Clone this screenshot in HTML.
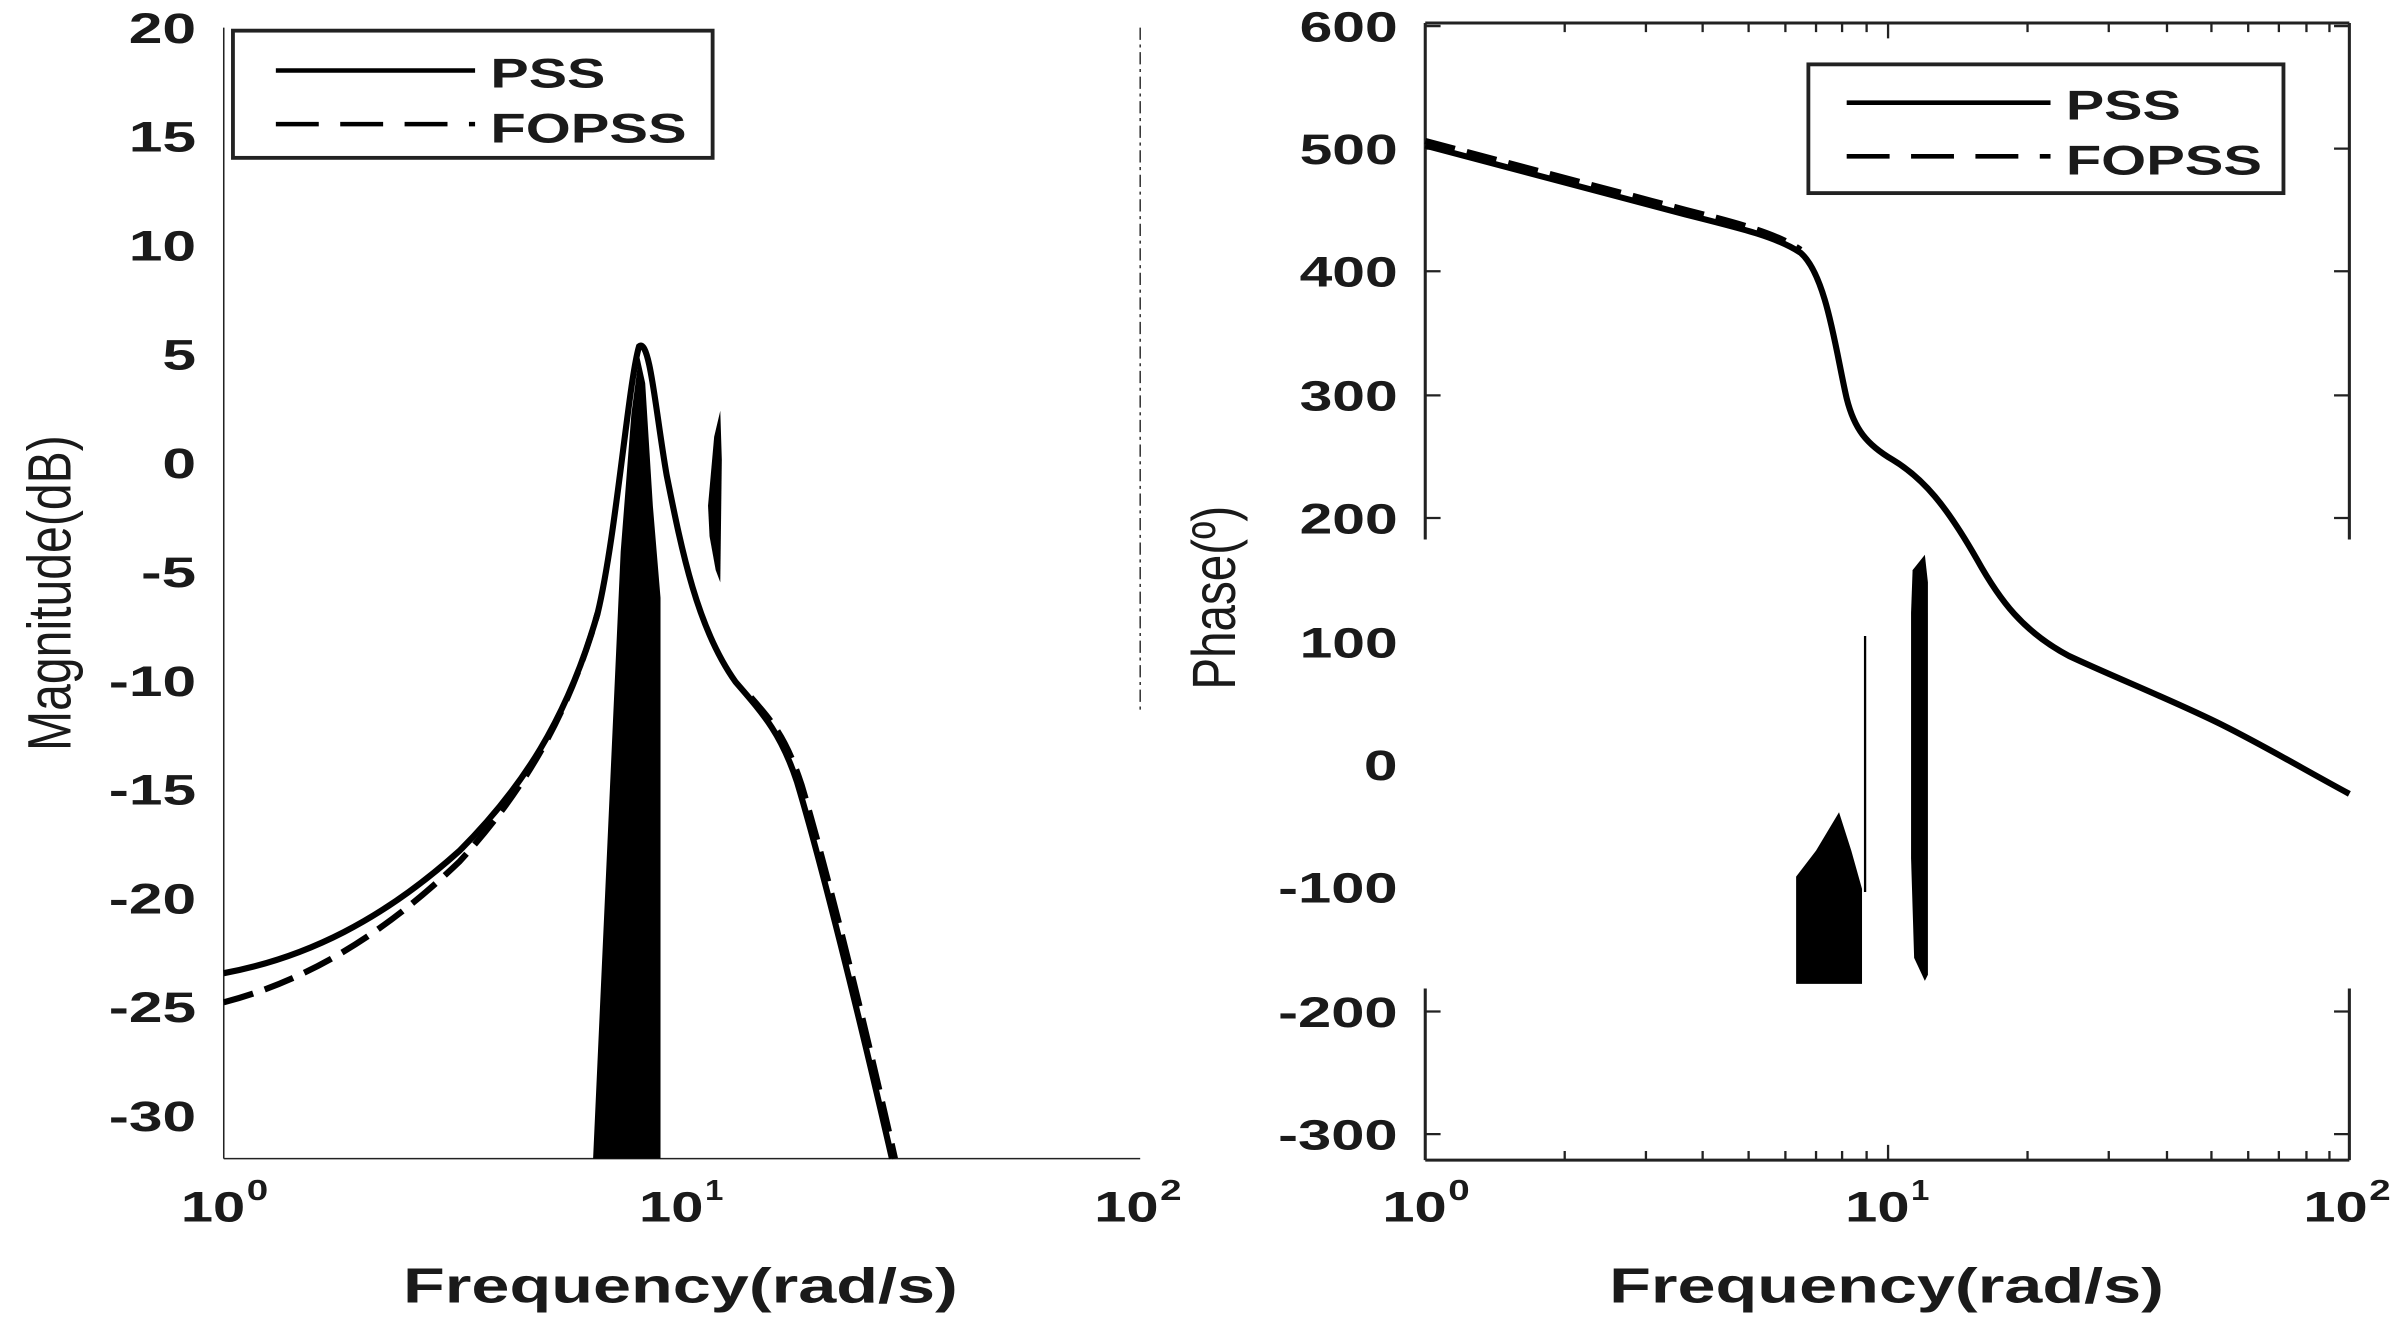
<!DOCTYPE html>
<html><head><meta charset="utf-8"><style>
html,body{margin:0;padding:0;background:#fff;}
svg{display:block;}
text{font-family:"Liberation Sans",Arial,sans-serif;font-weight:bold;fill:#1a1a1a;}
</style></head><body>
<svg width="2403" height="1318" viewBox="0 0 1568 860" preserveAspectRatio="none" xmlns="http://www.w3.org/2000/svg">
<rect width="1568" height="860" fill="#fff"/>
<!-- LEFT PLOT -->
<line x1="146" y1="18" x2="146" y2="756" stroke="#222" stroke-width="1"/>
<line x1="146" y1="756" x2="744" y2="756" stroke="#222" stroke-width="1"/>
<line x1="744" y1="18" x2="744" y2="465" stroke="#333" stroke-width="1" stroke-dasharray="8,3,2,3"/>
<g font-size="28" text-anchor="end" lengthAdjust="spacingAndGlyphs">
<text x="128" y="28" textLength="44" lengthAdjust="spacingAndGlyphs">20</text>
<text x="128" y="99" textLength="44" lengthAdjust="spacingAndGlyphs">15</text>
<text x="128" y="170" textLength="44" lengthAdjust="spacingAndGlyphs">10</text>
<text x="128" y="241" textLength="22" lengthAdjust="spacingAndGlyphs">5</text>
<text x="128" y="312" textLength="22" lengthAdjust="spacingAndGlyphs">0</text>
<text x="128" y="383" textLength="36" lengthAdjust="spacingAndGlyphs">-5</text>
<text x="128" y="454" textLength="57" lengthAdjust="spacingAndGlyphs">-10</text>
<text x="128" y="525" textLength="57" lengthAdjust="spacingAndGlyphs">-15</text>
<text x="128" y="596" textLength="57" lengthAdjust="spacingAndGlyphs">-20</text>
<text x="128" y="667" textLength="57" lengthAdjust="spacingAndGlyphs">-25</text>
<text x="128" y="738" textLength="57" lengthAdjust="spacingAndGlyphs">-30</text>
</g>
<g font-size="28">
<text x="118" y="797" textLength="42" lengthAdjust="spacingAndGlyphs">10</text><text x="161" y="783" font-size="19" textLength="14" lengthAdjust="spacingAndGlyphs">0</text>
<text x="417" y="797" textLength="42" lengthAdjust="spacingAndGlyphs">10</text><text x="460" y="783" font-size="19" textLength="12" lengthAdjust="spacingAndGlyphs">1</text>
<text x="714" y="797" textLength="42" lengthAdjust="spacingAndGlyphs">10</text><text x="757" y="783" font-size="19" textLength="14" lengthAdjust="spacingAndGlyphs">2</text>
</g>
<text x="263" y="850" font-size="32" textLength="362" lengthAdjust="spacingAndGlyphs">Frequency(rad/s)</text>
<text transform="translate(46,490) rotate(-90)" font-size="40" style="font-weight:normal" textLength="206" lengthAdjust="spacingAndGlyphs">Magnitude(dB)</text>
<!-- fills -->
<path d="M387,756 L405,360 L412,270 L417,232 L421,250 L426,330 L431,390 L431,756 Z" fill="#000"/>
<path d="M462,330 L466,285 L470,268 L471,300 L470,380 L467,372 L463,350 Z" fill="#000"/>
<!-- curves -->
<path d="M146,635 C200,625 250,600 300,555 C340,515 370,470 390,400 C402,350 410,250 417,226 C424,220 428,270 435,310 C445,360 455,410 480,445 C500,468 510,480 520,510 C535,560 560,660 582,756" fill="none" stroke="#000" stroke-width="4"/>
<path d="M146,654 C200,640 250,610 300,562 C340,518 370,470 390,400 M490,455 C505,472 513,482 523,512 C538,562 563,662 584,756" fill="none" stroke="#000" stroke-width="4" stroke-dasharray="20,8"/>
<!-- legend left -->
<rect x="152" y="20" width="313" height="83" fill="#fff" stroke="#222" stroke-width="2.5"/>
<line x1="180" y1="46" x2="310" y2="46" stroke="#000" stroke-width="3"/>
<line x1="180" y1="81" x2="310" y2="81" stroke="#000" stroke-width="3" stroke-dasharray="28,14"/>
<text x="320" y="57" font-size="27" textLength="75" lengthAdjust="spacingAndGlyphs">PSS</text>
<text x="320" y="93" font-size="27" textLength="128" lengthAdjust="spacingAndGlyphs">FOPSS</text>

<!-- RIGHT PLOT -->
<g stroke="#222" stroke-width="2" fill="none">
<line x1="930" y1="15" x2="1533" y2="15"/>
<line x1="930" y1="757" x2="1533" y2="757"/>
<path d="M930,15 V352 M930,645 V757"/>
<path d="M1533,15 V352 M1533,645 V757"/>
</g>
<g stroke="#222" stroke-width="1.5">
<path d="M930,17h10M930,97h10M930,177h10M930,258h10M930,338h10M930,660h10M930,740h10"/>
<path d="M1533,17h-10M1533,97h-10M1533,177h-10M1533,258h-10M1533,338h-10M1533,660h-10M1533,740h-10"/>
<path d="M1021,15v6M1074,15v6M1111,15v6M1141,15v6M1165,15v6M1185,15v6M1202,15v6M1218,15v6M1232,15v10M1323,15v6M1376,15v6M1414,15v6M1443,15v6M1467,15v6M1487,15v6M1505,15v6M1520,15v6"/>
<path d="M1021,757v-6M1074,757v-6M1111,757v-6M1141,757v-6M1165,757v-6M1185,757v-6M1202,757v-6M1218,757v-6M1232,757v-10M1323,757v-6M1376,757v-6M1414,757v-6M1443,757v-6M1467,757v-6M1487,757v-6M1505,757v-6M1520,757v-6"/>
</g>
<g font-size="28" text-anchor="end">
<text x="912" y="27" textLength="64" lengthAdjust="spacingAndGlyphs">600</text>
<text x="912" y="107" textLength="64" lengthAdjust="spacingAndGlyphs">500</text>
<text x="912" y="187" textLength="64" lengthAdjust="spacingAndGlyphs">400</text>
<text x="912" y="268" textLength="64" lengthAdjust="spacingAndGlyphs">300</text>
<text x="912" y="348" textLength="64" lengthAdjust="spacingAndGlyphs">200</text>
<text x="912" y="429" textLength="64" lengthAdjust="spacingAndGlyphs">100</text>
<text x="912" y="509" textLength="22" lengthAdjust="spacingAndGlyphs">0</text>
<text x="912" y="589" textLength="78" lengthAdjust="spacingAndGlyphs">-100</text>
<text x="912" y="670" textLength="78" lengthAdjust="spacingAndGlyphs">-200</text>
<text x="912" y="750" textLength="78" lengthAdjust="spacingAndGlyphs">-300</text>
</g>
<g font-size="28">
<text x="902" y="797" textLength="42" lengthAdjust="spacingAndGlyphs">10</text><text x="945" y="783" font-size="19" textLength="14" lengthAdjust="spacingAndGlyphs">0</text>
<text x="1204" y="797" textLength="42" lengthAdjust="spacingAndGlyphs">10</text><text x="1247" y="783" font-size="19" textLength="12" lengthAdjust="spacingAndGlyphs">1</text>
<text x="1503" y="797" textLength="42" lengthAdjust="spacingAndGlyphs">10</text><text x="1546" y="783" font-size="19" textLength="14" lengthAdjust="spacingAndGlyphs">2</text>
</g>
<text x="1050" y="850" font-size="32" textLength="362" lengthAdjust="spacingAndGlyphs">Frequency(rad/s)</text>
<text transform="translate(806,450) rotate(-90)" font-size="40" style="font-weight:normal" textLength="120" lengthAdjust="spacingAndGlyphs">Phase(º)</text>
<!-- fills -->
<path d="M1172,642 L1172,572 L1185,555 L1200,530 L1208,555 L1215,580 L1215,642 Z" fill="#000"/>
<line x1="1217" y1="415" x2="1217" y2="582" stroke="#000" stroke-width="1.5"/>
<path d="M1248,372 L1256,362 L1258,380 L1258,636 L1256,640 L1249,625 L1247,560 L1247,400 Z" fill="#000"/>
<!-- curves -->
<path d="M930,95 L1100,140 C1140,150 1160,155 1175,165 C1192,180 1198,230 1205,260 C1210,280 1218,290 1235,300 C1255,312 1270,330 1290,365 C1305,392 1320,412 1350,428 C1380,442 1420,458 1450,473 C1480,488 1505,503 1533,518" fill="none" stroke="#000" stroke-width="4"/>
<path d="M930,92 L1100,137 C1140,147 1160,153 1175,163" fill="none" stroke="#000" stroke-width="4" stroke-dasharray="20,8"/>
<!-- legend right -->
<rect x="1180" y="42" width="310" height="84" fill="#fff" stroke="#222" stroke-width="2.5"/>
<line x1="1205" y1="67" x2="1338" y2="67" stroke="#000" stroke-width="3"/>
<line x1="1205" y1="102" x2="1338" y2="102" stroke="#000" stroke-width="3" stroke-dasharray="28,14"/>
<text x="1348" y="78" font-size="27" textLength="75" lengthAdjust="spacingAndGlyphs">PSS</text>
<text x="1348" y="114" font-size="27" textLength="128" lengthAdjust="spacingAndGlyphs">FOPSS</text>
</svg>
</body></html>
